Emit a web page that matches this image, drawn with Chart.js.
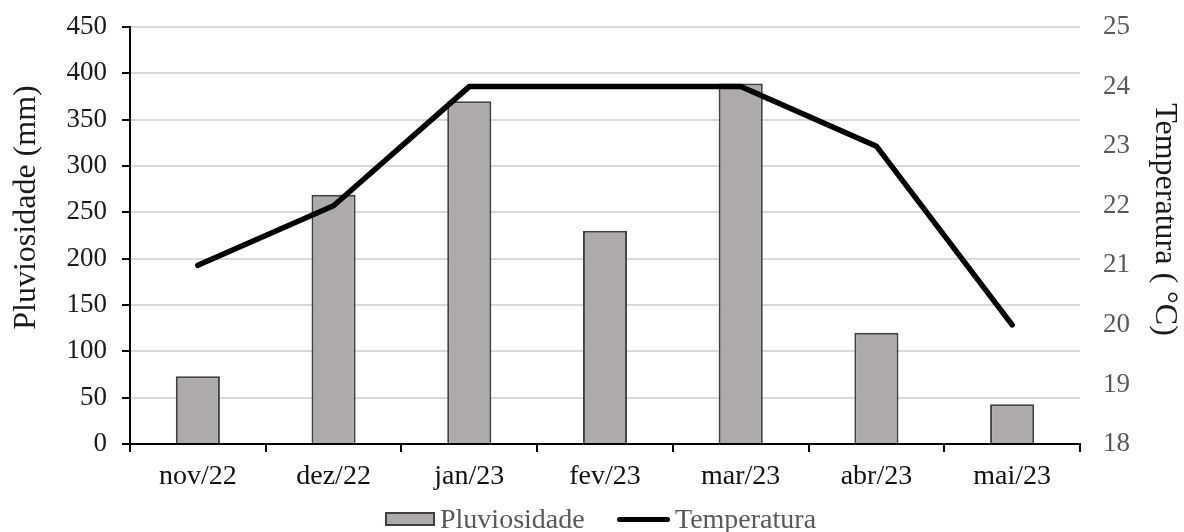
<!DOCTYPE html>
<html>
<head>
<meta charset="utf-8">
<script src="https://cdn.jsdelivr.net/npm/chart.js@4/dist/chart.umd.min.js"></script>
<style>
  html, body { margin: 0; padding: 0; background: #fff; }
  #wrap { position: relative; width: 1184px; height: 532px; }
  .lg {
    position: absolute; top: 503px; height: 32px; display: flex; align-items: center;
    font-family: "Liberation Serif", "Times New Roman", serif; font-size: 28px; color: #595959;
  }
  .sw-bar { width: 46px; height: 10px; background: #aeaaaa; border: 2px solid #404040; margin-right: 5px; }
  .sw-line { width: 53px; height: 5px; background: #000; border-radius: 3px; margin-right: 5px; }
</style>
</head>
<body>
<div id="wrap">
  <canvas id="c" width="1184" height="532"></canvas>
  <div class="lg" style="left:385px"><span class="sw-bar"></span><span>Pluviosidade</span></div>
  <div class="lg" style="left:617px"><span class="sw-line"></span><span>Temperatura</span></div>
</div>
<script>
// Monthly rainfall and mean temperature, Nov/2022 – May/2023
const months = ['nov/22', 'dez/22', 'jan/23', 'fev/23', 'mar/23', 'abr/23', 'mai/23'];
const rainfall = [73, 269, 370, 230, 389, 120, 43];
const temperature = [21, 22, 24, 24, 24, 23, 20];

const serif = '"Liberation Serif", "Times New Roman", serif';
const NBSP = '\u00a0';

// fixed axis widths; vertical padding comes from layout.padding only
const fixWidth = w => s => { s.width = w; s.paddingTop = 0; s.paddingBottom = 0; };

new Chart(document.getElementById('c'), {
  data: {
    labels: months,
    datasets: [
      {
        type: 'line',
        label: 'Temperatura',
        data: temperature,
        yAxisID: 'yT',
        borderColor: '#000',
        borderWidth: 5.5,
        borderCapStyle: 'round',
        borderJoinStyle: 'miter',
        pointRadius: 0,
        tension: 0,
        order: 0
      },
      {
        type: 'bar',
        label: 'Pluviosidade',
        data: rainfall,
        yAxisID: 'yR',
        backgroundColor: '#aeaaaa',
        borderColor: '#404040',
        borderWidth: 2,
        barPercentage: 0.325,
        categoryPercentage: 1,
        order: 1
      }
    ]
  },
  options: {
    responsive: false,
    animation: false,
    devicePixelRatio: 1,
    layout: { padding: { top: 27, bottom: 40, left: 0, right: 0 } },
    plugins: { legend: { display: false }, tooltip: { enabled: false } },
    scales: {
      x: {
        offset: true,
        grid: { display: true, drawOnChartArea: false, offset: true, tickLength: 8, tickColor: '#000', lineWidth: 2 },
        border: { display: true, color: '#000', width: 2 },
        ticks: { color: '#111', padding: 8, font: { family: serif, size: 28 } },
        afterFit: s => { s.height = 48; }
      },
      yR: {
        position: 'left',
        min: 0, max: 450,
        ticks: { stepSize: 50, color: '#1a1a1a', padding: 15, font: { family: serif, size: 27 } },
        grid: { color: '#d9d9d9', lineWidth: 2, tickColor: '#000', tickLength: 8 },
        border: { display: true, color: '#000', width: 2 },
        title: { display: true, text: NBSP.repeat(7) + 'Pluviosidade (mm)', color: '#1a1a1a', padding: { top: 7, bottom: 0 }, font: { family: serif, size: 32, weight: 'normal' } },
        afterFit: fixWidth(130)
      },
      yT: {
        position: 'right',
        min: 18, max: 25,
        ticks: { stepSize: 1, color: '#595959', padding: 23, font: { family: serif, size: 27 } },
        grid: { display: false, drawTicks: false },
        border: { display: false },
        title: { display: true, text: 'Temperatura ( °C)' + NBSP.repeat(4), color: '#1a1a1a', padding: { top: 0, bottom: 0 }, font: { family: serif, size: 32, weight: 'normal' } },
        afterFit: fixWidth(104)
      }
    }
  }
});
</script>
</body>
</html>
